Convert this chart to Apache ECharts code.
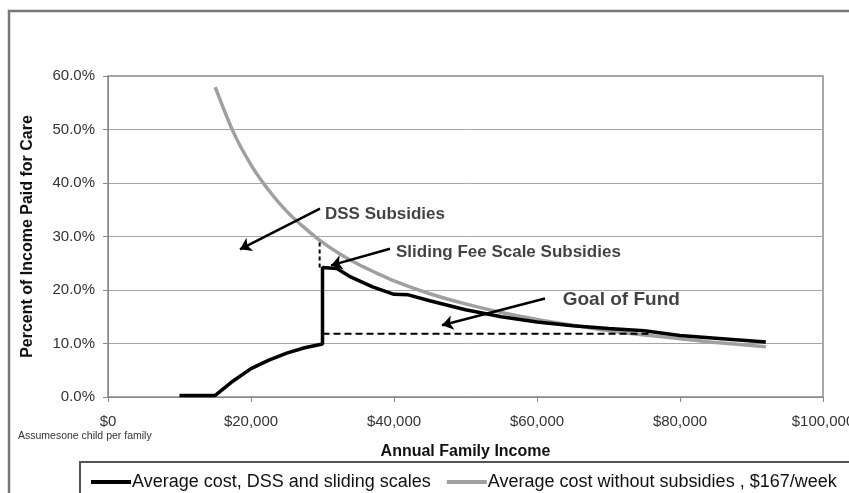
<!DOCTYPE html>
<html>
<head>
<meta charset="utf-8">
<script src="https://cdn.jsdelivr.net/npm/echarts@6/dist/echarts.min.js"></script>
<style>
  html, body { margin: 0; padding: 0; background: #fff; }
  #chart { width: 849px; height: 493px; }
</style>
</head>
<body>
<div id="chart"></div>
<script>
// income ($) vs percent of income paid for care
var subsidized = [
  [10000, 0.3], [15000, 0.3], [17500, 3.0], [20000, 5.3], [22500, 6.9],
  [25000, 8.2], [27500, 9.2], [30000, 9.9], [30000, 24.2], [32000, 24.0],
  [34000, 22.4], [37000, 20.6], [40000, 19.2], [42000, 19.1], [45000, 18.0],
  [50000, 16.3], [55000, 15.0], [60000, 14.0], [65000, 13.3], [70000, 12.8],
  [75000, 12.4], [80000, 11.5], [85000, 11.0], [92000, 10.3]
]
var unsubsidized = [
  [15000, 57.9], [17500, 49.6], [20000, 43.4], [22500, 38.6], [25000, 34.7],
  [27500, 31.6], [30000, 28.9], [32500, 26.7], [35000, 24.8], [37500, 23.2],
  [40000, 21.7], [45000, 19.3], [50000, 17.4], [55000, 15.8], [60000, 14.5],
  [65000, 13.4], [70000, 12.4], [75000, 11.6], [80000, 10.9], [85000, 10.2],
  [92000, 9.4]
]
var goalLine = [[30000, 11.8], [76000, 11.8]]
var dssGap = [[29600, 24.2], [29600, 29.0]]

var seriesNames = ['Average cost, DSS and sliding scales', 'Average cost without subsidies , $167/week']

// annotation arrows: [from, to]
var arrows = [
  [[29650, 35.2], [18460, 27.6]],
  [[39440, 27.7], [31190, 24.6]],
  [[61120, 18.4], [46710, 13.4]]
]
var noteLabels = ['DSS Subsidies', 'Sliding Fee Scale Subsidies', 'Goal of Fund']
var notePos = [[30350, 34.1], [40280, 27.0], [63600, 18.1]]

var chart = echarts.init(document.getElementById('chart'))
var font = "'Liberation Sans', Arial, sans-serif"

chart.setOption({
  animation: false,
  backgroundColor: '#fff',
  textStyle: { fontFamily: font },
  grid: {
    left: 108,
    right: 26,
    top: 76,
    bottom: 96,
    outerBoundsMode: 'none',
    containLabel: false,
    show: true,
    borderColor: '#8c8c8c',
    borderWidth: 1.5
  },
  xAxis: {
    type: 'value',
    min: 0,
    max: 100000,
    interval: 20000,
    name: 'Annual Family Income',
    nameLocation: 'middle',
    nameGap: 47,
    nameTextStyle: { fontWeight: 'bold', fontSize: 16, color: '#111' },
    axisLine: { lineStyle: { color: '#888' } },
    axisTick: { show: true, length: 5, lineStyle: { color: '#888' } },
    splitLine: { show: false },
    axisLabel: {
      margin: 17,
      fontSize: 15,
      color: '#333',
      formatter: function (v) { return '$' + v.toLocaleString('en-US') }
    }
  },
  yAxis: {
    type: 'value',
    min: 0,
    max: 60,
    interval: 10,
    name: 'Percent of Income Paid for Care',
    nameLocation: 'middle',
    nameGap: 72,
    nameTextStyle: { fontWeight: 'bold', fontSize: 16, color: '#111' },
    axisLine: { show: true, lineStyle: { color: '#888' } },
    axisTick: { show: true, length: 5, lineStyle: { color: '#888' } },
    splitLine: { lineStyle: { color: '#a6a6a6', width: 1 } },
    axisLabel: {
      margin: 13,
      fontSize: 15,
      color: '#333',
      formatter: function (v) { return v.toFixed(1) + '%' }
    }
  },
  legend: {
    data: seriesNames,
    left: 86,
    top: 468,
    icon: 'rect',
    itemWidth: 40,
    itemHeight: 4,
    itemGap: 16,
    textStyle: { fontSize: 18, color: '#111', padding: [0, 0, 0, -4] }
  },
  graphic: [
    {
      type: 'rect',
      shape: { x: 9, y: 11, width: 900, height: 600 },
      style: { fill: 'none', stroke: '#777', lineWidth: 2.5 },
      silent: true
    },
    {
      type: 'rect',
      shape: { x: 80, y: 462, width: 800, height: 60 },
      style: { fill: 'none', stroke: '#555', lineWidth: 2 },
      silent: true
    },
    {
      type: 'text',
      left: 18,
      top: 431,
      style: { text: 'Assumesone child per family', fontSize: 10.5, fill: '#333', fontFamily: font }
    }
  ],
  series: [
    {
      name: seriesNames[1],
      type: 'line',
      data: unsubsidized,
      symbol: 'none',
      smooth: 0.3,
      lineStyle: { color: '#a0a0a0', width: 3.5 },
      itemStyle: { color: '#a0a0a0' },
      z: 2
    },
    {
      name: seriesNames[0],
      type: 'line',
      data: subsidized,
      symbol: 'none',
      lineStyle: { color: '#000', width: 3.5 },
      itemStyle: { color: '#000' },
      z: 3
    },
    {
      name: 'goal',
      type: 'line',
      data: goalLine,
      symbol: 'none',
      lineStyle: { color: '#000', width: 2, type: [7, 4] },
      z: 4
    },
    {
      name: 'gap',
      type: 'line',
      data: dssGap,
      symbol: 'none',
      lineStyle: { color: '#000', width: 2, type: [4, 3] },
      z: 4
    },
    {
      name: 'arrows',
      type: 'lines',
      coordinateSystem: 'cartesian2d',
      symbol: ['none', 'arrow'],
      symbolSize: 11,
      lineStyle: { color: '#000', width: 2.5, opacity: 1 },
      data: arrows.map(function (a) { return { coords: a } }),
      z: 5
    },
    {
      name: 'notes',
      type: 'scatter',
      symbolSize: 0,
      data: notePos.map(function (p, i) {
        return {
          value: p,
          label: {
            show: true,
            position: 'right',
            distance: 0,
            formatter: noteLabels[i],
            fontSize: i === 2 ? 19 : 17,
            fontWeight: 'bold',
            color: '#111'
          }
        }
      }),
      z: 6
    }
  ]
})
</script>
</body>
</html>
